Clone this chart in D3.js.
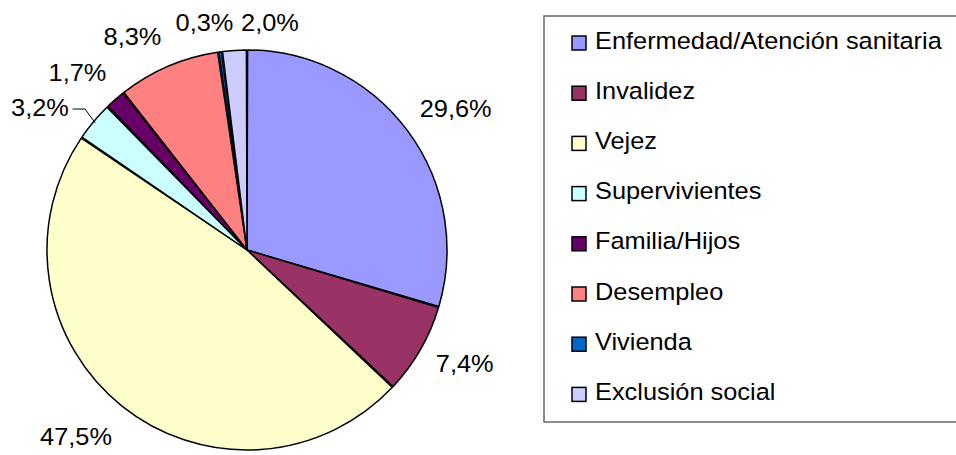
<!DOCTYPE html>
<html><head><meta charset="utf-8">
<script src="https://cdn.jsdelivr.net/npm/d3@7"></script>
<style>body{margin:0;background:#fff;}svg{display:block;}text{font-family:"Liberation Sans",Arial,sans-serif;fill:#000;}</style>
</head><body>
<svg id="c" width="956" height="455"></svg>
<script>
const categories = ["Enfermedad/Atención sanitaria","Invalidez","Vejez","Supervivientes","Familia/Hijos","Desempleo","Vivienda","Exclusión social"];
const values = [29.6, 7.4, 47.5, 3.2, 1.7, 8.3, 0.3, 2.0];
const labels = ["29,6%","7,4%","47,5%","3,2%","1,7%","8,3%","0,3%","2,0%"];
const colors = ["#9999FF","#993366","#FFFFCC","#CCFFFF","#660066","#FF8080","#0066CC","#CCCCFF"];

const svg = d3.select("#c");
const cx = 247, cy = 250, R = 200;
const FS = 23.5, SX = 1.08;

const pie = d3.pie().sort(null).value(d => d)(values);
const arc = d3.arc().innerRadius(0).outerRadius(R).padAngle(0.006).padRadius(R);
const g = svg.append("g").attr("transform", `translate(${cx},${cy})`);
g.selectAll("path").data(pie).join("path")
  .attr("d", arc)
  .attr("fill", (d,i) => colors[i])
  .attr("stroke", "#000").attr("stroke-width", 1.5).attr("stroke-linejoin","round");

// label positions (outside the pie, radial placement)
const labelRadius = [1.06, 1.12, 1.08, 1.06, 1.06, 1.06, 1.06, 1.06];
const labelPos = [[455.7,116.7],[464.7,372.3],[76,445],[40,116],[77.5,81],[132.5,45],[204.5,30.7],[270,30.7]];
svg.selectAll("text.lbl").data(labels).join("text").attr("class","lbl")
  .attr("text-anchor","middle")
  .attr("font-size", FS)
  .attr("transform", (d,i) => `translate(${labelPos[i][0]},${labelPos[i][1]}) scale(${SX},1)`)
  .text(d => d);

// leader line for 3,2%
const a3 = (pie[3].startAngle + pie[3].endAngle)/2;
const ex = cx + Math.sin(a3)*R*0.99, ey = cy - Math.cos(a3)*R*0.99;
svg.append("path")
  .attr("d", `M72.5,109 L85,109 L${ex},${ey}`)
  .attr("fill","none").attr("stroke","#000").attr("stroke-width",1);

// legend
svg.append("rect").attr("x",544).attr("y",16).attr("width",440).attr("height",406)
  .attr("fill","#fff").attr("stroke","#666").attr("stroke-width",1.5);
const lg = svg.selectAll("g.leg").data(categories).join("g").attr("class","leg")
  .attr("transform",(d,i)=>`translate(0,${i*50.2})`);
lg.append("rect").attr("x",572).attr("y",36).attr("width",14).attr("height",14)
  .attr("fill",(d,i)=>colors[i]).attr("stroke","#000").attr("stroke-width",1.5);
lg.append("text").attr("font-size",FS)
  .attr("transform",`translate(595,48.5) scale(${SX},1)`)
  .text(d=>d);
</script>
</body></html>
